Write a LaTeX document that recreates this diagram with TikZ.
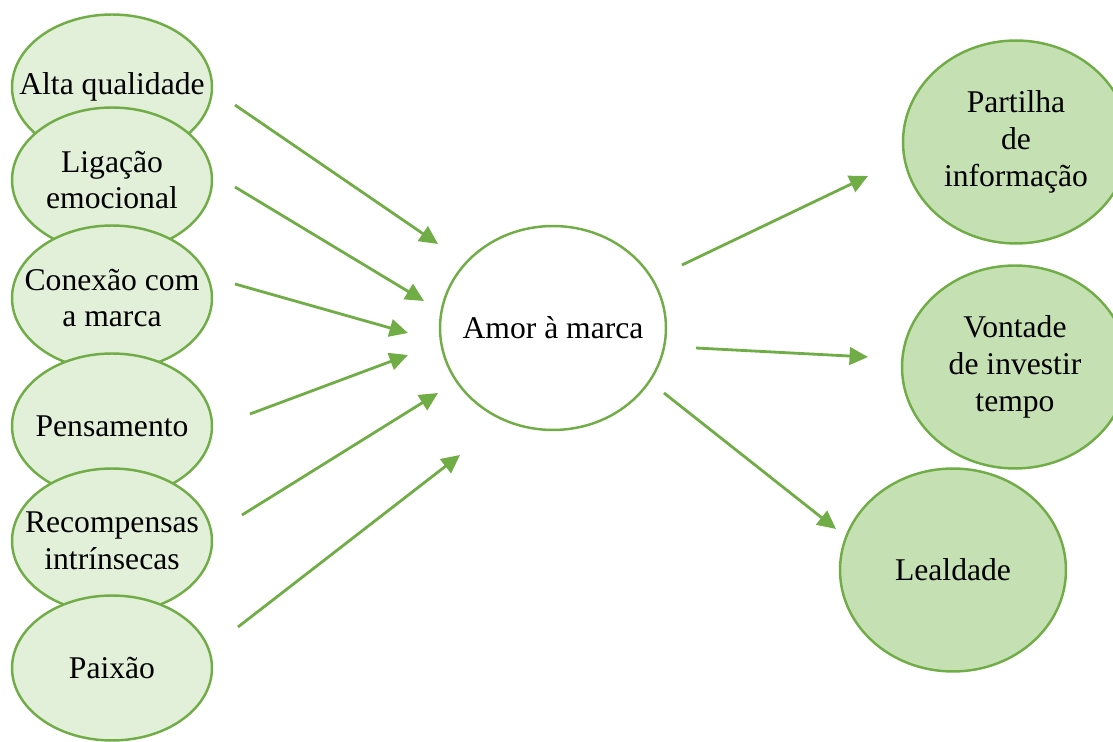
\documentclass[tikz,border=0pt]{standalone}
\usepackage{fontspec}
\setmainfont{Liberation Serif}
\usetikzlibrary{arrows.meta,shapes.geometric}
\definecolor{leafline}{HTML}{70AD47}
\definecolor{leaflight}{HTML}{E2EFD9}
\definecolor{leafmid}{HTML}{C5E0B3}
\tikzstyle{oval}=[ellipse,draw=leafline,line width=1.4pt,inner xsep=-15pt,inner ysep=0pt,align=center,font=\fontsize{18}{21}\selectfont]
\tikzstyle{driver}=[oval,fill=leaflight,minimum width=4cm,minimum height=2.9cm]
\tikzstyle{outcome}=[oval,fill=leafmid,minimum width=4.52cm,minimum height=4.06cm]
\tikzstyle{core}=[oval,fill=white,minimum width=4.52cm,minimum height=4.08cm]
\tikzstyle{link}=[draw=leafline,line width=1.6pt,-{Triangle[length=10.5pt,width=10pt]}]

\begin{document}
\begin{tikzpicture}[x=0.02cm,y=-0.02cm]
    \clip (0,0) rectangle (1113,742);
    % Antecedents, stacked down the left side
    \foreach \pos/\name/\txt in {{(112,87)/alta/Alta qualidade}, {(112,180)/ligacao/{Ligação\\emocional}}, {(112,298)/conexao/{Conexão com\\a marca}}, {(112,426)/pensamento/Pensamento}, {(112,541)/recompensas/{Recompensas\\intrínsecas}}, {(112,668)/paixao/Paixão}}
        \node[driver] (\name) at \pos {\txt};

    % Central construct
    \node[core] (amor) at (553,328) {Amor à marca};

    % Consequences on the right
    \foreach \pos/\name/\txt in {{(1016,142)/partilha/{Partilha\\de\\informação}}, {(1015,367)/vontade/{Vontade\\de investir\\tempo}}, {(953,570)/lealdade/Lealdade}}
        \node[outcome] (\name) at \pos {\txt};

    % Arrow ends (the arrows float between the ovals)
    \coordinate (a1) at (235,105);  \coordinate (b1) at (438,244);
    \coordinate (a2) at (235,187);  \coordinate (b2) at (424,301);
    \coordinate (a3) at (235,284);  \coordinate (b3) at (408,333);
    \coordinate (a4) at (250,414);  \coordinate (b4) at (408,355);
    \coordinate (a5) at (242,515);  \coordinate (b5) at (438,393);
    \coordinate (a6) at (238,627);  \coordinate (b6) at (460,455);
    \coordinate (a7) at (682,265);  \coordinate (b7) at (868,176);
    \coordinate (a8) at (696,348);  \coordinate (b8) at (868,357);
    \coordinate (a9) at (664,393);  \coordinate (b9) at (836,529);

    % Draw the arrows
    \foreach \source/\dest in {a1/b1, a2/b2, a3/b3, a4/b4, a5/b5, a6/b6, a7/b7, a8/b8, a9/b9}
        \path[link] (\source) -- (\dest);
\end{tikzpicture}
\end{document}
